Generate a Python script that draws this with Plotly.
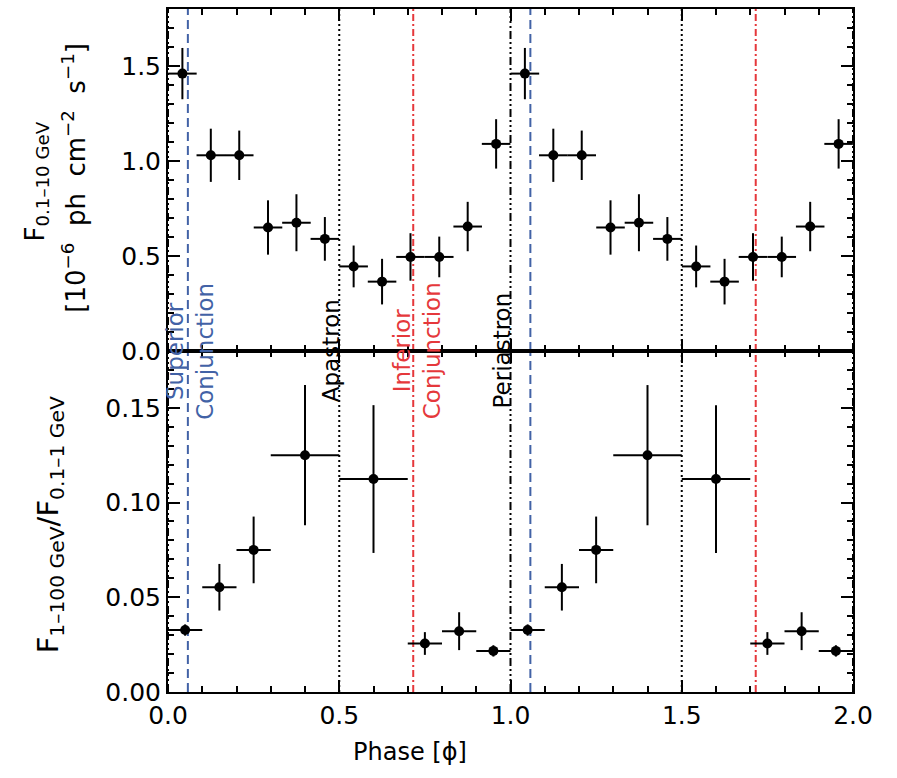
import plotly.graph_objects as go

# ---------------- data ----------------
# Top panel: 0.1-10 GeV flux, 12 equal phase bins (one orbit), shown twice
top_phase = [0.042, 0.125, 0.208, 0.292, 0.375, 0.458, 0.542, 0.625, 0.708, 0.792, 0.875, 0.958]
top_halfwidth = [0.0417] * 12
top_flux = [1.46, 1.03, 1.03, 0.65, 0.675, 0.59, 0.445, 0.365, 0.495, 0.495, 0.655, 1.09]
top_err = [0.135, 0.14, 0.13, 0.143, 0.15, 0.115, 0.11, 0.12, 0.125, 0.107, 0.13, 0.13]

# Bottom panel: hardness ratio F(1-100 GeV)/F(0.1-1 GeV)
bot_phase = [0.05, 0.15, 0.25, 0.40, 0.60, 0.75, 0.85, 0.95]
bot_halfwidth = [0.05, 0.05, 0.05, 0.10, 0.10, 0.05, 0.05, 0.05]
bot_ratio = [0.0327, 0.0553, 0.075, 0.125, 0.1124, 0.0256, 0.0321, 0.0217]
bot_err = [0.003, 0.0123, 0.0176, 0.037, 0.039, 0.006, 0.010, 0.003]

# Orbital markers
sup_conj = [0.058, 1.058]
apastron = [0.5, 1.5]
inf_conj = [0.716, 1.716]
periastron = [0.0, 1.0, 2.0]

x_ticks = [0.0, 0.5, 1.0, 1.5, 2.0]
top_yticks = [0.0, 0.5, 1.0, 1.5]
bot_yticks = [0.00, 0.05, 0.10, 0.15]

BLUE = "#4262a6"
RED = "#e5383b"
FONT = "DejaVu Sans"

# two cycles
tx = top_phase + [p + 1 for p in top_phase]
tw = top_halfwidth + top_halfwidth
ty = top_flux + top_flux
te = top_err + top_err
bx = bot_phase + [p + 1 for p in bot_phase]
bw = bot_halfwidth + bot_halfwidth
by = bot_ratio + bot_ratio
be = bot_err + bot_err

fig = go.Figure()
fig.add_trace(go.Scatter(
    x=tx, y=ty, mode="markers", xaxis="x", yaxis="y",
    marker=dict(color="black", size=10),
    error_x=dict(type="data", array=tw, color="black", thickness=2, width=0),
    error_y=dict(type="data", array=te, color="black", thickness=2, width=0),
    showlegend=False))
fig.add_trace(go.Scatter(
    x=bx, y=by, mode="markers", xaxis="x2", yaxis="y2",
    marker=dict(color="black", size=10),
    error_x=dict(type="data", array=bw, color="black", thickness=2, width=0),
    error_y=dict(type="data", array=be, color="black", thickness=2, width=0),
    showlegend=False))
# empty traces registering the mirrored tick axes
for xa, ya in (("x3", "y"), ("x", "y3"), ("x4", "y2"), ("x2", "y4")):
    fig.add_trace(go.Scatter(x=[], y=[], xaxis=xa, yaxis=ya, showlegend=False,
                             hoverinfo="skip"))

tickfont = dict(family=FONT, size=25, color="black")
axis_common = dict(
    showline=True, linecolor="black", linewidth=2, mirror=True,
    ticks="inside", ticklen=12, tickwidth=1.8, tickcolor="black",
    showgrid=False, zeroline=False, tickfont=tickfont,
)

def minor(d):
    return dict(dtick=d, tick0=0, ticklen=6, ticks="inside", tickwidth=1.5,
                tickcolor="black", showgrid=False)

shapes = []
def vline(x, color, dash, xr, yr):
    shapes.append(dict(type="line", xref=xr, yref=yr, x0=x, x1=x, y0=0, y1=1,
                       line=dict(color=color, width=2, dash=dash), layer="below"))

for xr, yr in (("x", "y domain"), ("x2", "y2 domain")):
    for p in sup_conj:
        vline(p, BLUE, "9px,5px", xr, yr)
    for p in apastron:
        vline(p, "black", "2px,3px", xr, yr)
    for p in inf_conj:
        vline(p, RED, "7px,3px,2px,3px", xr, yr)
    for p in periastron:
        vline(p, "black", "8px,3px,2px,3px,2px,3px,2px,3px", xr, yr)

mid = 0.4993
labels = [
    ("Superior<br>Conjunction", sup_conj[0], 2, BLUE),
    ("Apastron", apastron[0], -8, "black"),
    ("Inferior<br>Conjunction", inf_conj[0], 4, RED),
    ("Periastron", periastron[1], -9, "black"),
]
ann_list = []
for text, x, xs, c in labels:
    ann_list.append(dict(
        text=text, x=x, y=mid, xref="x2", yref="paper",
        xanchor="center", yanchor="middle", xshift=xs,
        textangle=-90, showarrow=False, align="center",
        font=dict(family=FONT, size=23, color=c)))

# axis titles
ann_list.append(dict(text="F<sub>0.1–10 GeV</sub>", x=0, y=0.7475, xref="paper", yref="paper",
                     xshift=-132, xanchor="center", yanchor="middle", textangle=-90,
                     showarrow=False, font=dict(family=FONT, size=26, color="black")))
ann_list.append(dict(text="[10<sup>−6</sup>  ph  cm<sup>−2</sup>  s<sup>−1</sup>]", x=0, y=0.753,
                     xref="paper", yref="paper",
                     xshift=-94, xanchor="center", yanchor="middle", textangle=-90,
                     showarrow=False, font=dict(family=FONT, size=26, color="black")))
ann_list.append(dict(text="F<sub>1–100 GeV</sub>/F<sub>0.1–1 GeV</sub>", x=0, y=0.244,
                     xref="paper", yref="paper",
                     xshift=-118, xanchor="center", yanchor="middle", textangle=-90,
                     showarrow=False, font=dict(family=FONT, size=29, color="black")))
ann_list.append(dict(text="Phase [ϕ]", x=0.353, y=0, xref="paper", yref="paper",
                     yshift=-60, xanchor="center", yanchor="middle",
                     showarrow=False, font=dict(family=FONT, size=24, color="black")))

mirror_common = dict(ticks="inside", ticklen=12, tickwidth=1.8, tickcolor="black",
                     showticklabels=False, showgrid=False, zeroline=False, showline=False)

fig.update_layout(
    width=897, height=778,
    margin=dict(l=168, r=44, t=7, b=86),
    paper_bgcolor="white", plot_bgcolor="rgba(0,0,0,0)",
    xaxis=dict(axis_common, domain=[0, 1], range=[0, 2], anchor="y",
               tickvals=x_ticks, showticklabels=False, minor=minor(0.1)),
    yaxis=dict(axis_common, domain=[mid, 1], range=[0, 1.8], anchor="x",
               tickvals=top_yticks, tickformat=".1f", minor=minor(0.1)),
    xaxis2=dict(axis_common, domain=[0, 1], range=[0, 2], anchor="y2",
                tickvals=x_ticks, tickformat=".1f", minor=minor(0.1)),
    yaxis2=dict(axis_common, domain=[0, mid], range=[0, 0.18], anchor="x2",
                tickvals=bot_yticks, tickformat=".2f", minor=minor(0.01)),
    xaxis3=dict(mirror_common, overlaying="x", side="top", anchor="y", range=[0, 2],
                tickvals=x_ticks, minor=minor(0.1)),
    yaxis3=dict(mirror_common, overlaying="y", side="right", anchor="x", range=[0, 1.8],
                tickvals=top_yticks, minor=minor(0.1)),
    xaxis4=dict(mirror_common, overlaying="x2", side="top", anchor="y2", range=[0, 2],
                tickvals=x_ticks, minor=minor(0.1)),
    yaxis4=dict(mirror_common, overlaying="y2", side="right", anchor="x2", range=[0, 0.18],
                tickvals=bot_yticks, minor=minor(0.01)),
    shapes=shapes,
    annotations=ann_list,
)

fig.write_html("out.html")
